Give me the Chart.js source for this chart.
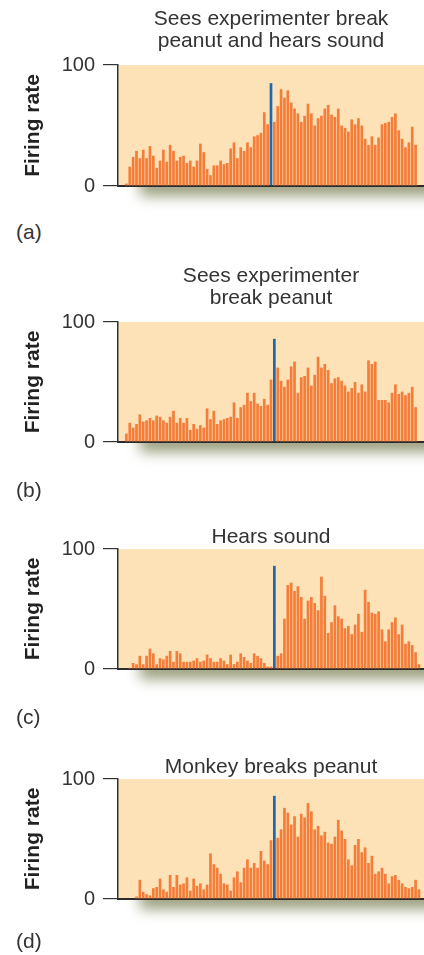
<!DOCTYPE html>
<html>
<head>
<meta charset="utf-8">
<title>Firing rate</title>
<script src="https://cdn.jsdelivr.net/npm/chart.js@4/dist/chart.umd.min.js"></script>
<style>
  body { margin: 0; background: #fff; width: 424px; height: 955px; position: relative; overflow: hidden; font-family: "Liberation Sans", Arial, sans-serif; }
  .panel { position: absolute; left: 0; width: 424px; height: 215px; }
  .tag { position: absolute; left: 16px; font-size: 21px; line-height: 24px; color: #333; }
</style>
</head>
<body>
<div class="panel" style="top:0px"><canvas id="chartA" width="424" height="215"></canvas></div>
<div class="panel" style="top:257px"><canvas id="chartB" width="424" height="215"></canvas></div>
<div class="panel" style="top:484px"><canvas id="chartC" width="424" height="215"></canvas></div>
<div class="panel" style="top:714px"><canvas id="chartD" width="424" height="215"></canvas></div>
<div class="tag" style="top:220px">(a)</div>
<div class="tag" style="top:478px">(b)</div>
<div class="tag" style="top:705px">(c)</div>
<div class="tag" style="top:929px">(d)</div>

<script>
// 91 time bins per panel, blue line = moment of the event
const binCount = 91;
const binLabels = Array.from({ length: binCount }, (_, i) => i);

const titleA = ["Sees experimenter break", "peanut and hears sound"];
const titleB = ["Sees experimenter", "break peanut"];
const titleC = "Hears sound";
const titleD = "Monkey breaks peanut";

const yTicks = [0, 100];

const ratesA = [
  0, 0, 2, 16, 24, 29, 23, 30, 23, 33, 25, 15, 21, 30, 20, 34, 29, 21, 24, 25,
  19, 21, 16, 21, 35, 28, 14, 9, 17, 17, 21, 18, 19, 31, 36, 23, 32, 29, 36, 32,
  41, 42, 44, 61, 51, null,
  53, 66, 80, 73, 79, 69, 64, 60, 53, 58, 68, 60, 50, 56, 58, 64, 67, 59, 57, 64,
  50, 48, 45, 55, 51, 56, 50, 39, 34, 41, 34, 40, 51, 52, 53, 57, 60, 46, 39, 32,
  36, 49, 34, 0, 0
];
const ratesB = [
  0, 0, 7, 16, 12, 15, 23, 17, 18, 20, 18, 22, 21, 18, 16, 21, 26, 16, 20, 16,
  20, 10, 15, 11, 14, 12, 28, 19, 26, 15, 18, 19, 20, 21, 33, 20, 29, 31, 41, 34,
  41, 32, 30, 36, 31, 52, null,
  62, 51, 46, 52, 63, 67, 41, 54, 55, 62, 47, 56, 71, 62, 65, 60, 49, 53, 54, 51,
  47, 42, 45, 50, 41, 48, 42, 68, 65, 67, 35, 35, 35, 33, 41, 48, 40, 42, 39, 41,
  46, 29, 0, 0
];
const ratesC = [
  0, 0, 0, 1, 5, 4, 11, 4, 11, 17, 13, 4, 9, 8, 11, 15, 6, 15, 13, 6,
  6, 6, 7, 9, 6, 7, 12, 9, 6, 6, 9, 7, 4, 12, 4, 6, 13, 10, 7, 5,
  13, 11, 9, 5, 2, 2, null,
  11, 13, 42, 70, 72, 65, 69, 60, 42, 57, 60, 55, 49, 77, 61, 30, 39, 53, 44, 42,
  34, 36, 29, 37, 46, 31, 66, 56, 47, 46, 48, 33, 23, 33, 39, 43, 29, 37, 21, 23,
  20, 14, 4, 0
];
const ratesD = [
  0, 0, 0, 0, 0, 2, 16, 6, 4, 3, 9, 10, 17, 8, 6, 20, 10, 20, 12, 13,
  18, 7, 17, 11, 13, 8, 12, 38, 29, 26, 21, 13, 12, 7, 18, 23, 14, 26, 33, 26,
  30, 26, 40, 32, 29, 49, null,
  51, 58, 76, 72, 62, 69, 52, 71, 68, 80, 73, 58, 61, 53, 56, 47, 46, 52, 66, 57,
  50, 33, 28, 45, 50, 39, 43, 30, 36, 21, 23, 26, 21, 13, 19, 20, 16, 13, 10, 9,
  10, 16, 8, 0
];

// bin of the blue marker and its height, panels a-d
const markBins = [45, 46, 46, 46];
const markHeights = [85, 86, 86, 86];

Chart.defaults.font.family = '"Liberation Sans", Arial, sans-serif';
Chart.defaults.color = "#333";

// peach plot area and the soft shadow under the baseline
const backdrop = {
  id: "backdrop",
  beforeDraw(chart) {
    const { ctx, chartArea: a } = chart;
    ctx.save();
    ctx.fillStyle = "#fde2b8";
    ctx.fillRect(a.left, a.top, a.right - a.left, a.bottom - a.top);
    ctx.beginPath();
    ctx.rect(a.left, a.bottom, chart.width - a.left, 40);
    ctx.clip();
    ctx.filter = "blur(7px)";
    ctx.fillStyle = "rgba(135,140,100,0.85)";
    ctx.fillRect(a.left + 22, a.bottom - 10, chart.width + 20, 20);
    ctx.restore();
  }
};

function drawPanel(id, title, rates, markBin, markHeight, bottomPad) {
  const twoLines = Array.isArray(title);
  const markData = rates.map((v, i) => (i === markBin ? markHeight : null));

  new Chart(document.getElementById(id), {
    type: "bar",
    data: {
      labels: binLabels,
      datasets: [
        { data: rates, backgroundColor: "#f47d3a", barPercentage: 0.8, categoryPercentage: 1, grouped: false },
        { data: markData, backgroundColor: "#1e69b3", barPercentage: 0.8, categoryPercentage: 1, grouped: false }
      ]
    },
    options: {
      responsive: false,
      animation: false,
      devicePixelRatio: 1,
      layout: { padding: { top: 0, left: 0, right: 0, bottom: bottomPad } },
      plugins: {
        legend: { display: false },
        tooltip: { enabled: false },
        title: {
          display: true,
          text: title,
          fullSize: false,
          color: "#333",
          font: { size: 21, weight: "normal", lineHeight: 1.05 },
          padding: twoLines ? { top: 7.9, bottom: 13 } : { top: 42.5, bottom: 0.5 }
        }
      },
      scales: {
        x: {
          type: "category",
          grid: { display: false, drawTicks: false },
          ticks: { display: false },
          border: { display: true, color: "#2b2b2b", width: 2 }
        },
        y: {
          min: yTicks[0],
          max: yTicks[1],
          afterBuildTicks: (s) => { s.ticks = yTicks.map((v) => ({ value: v })); },
          ticks: { padding: 8, font: { size: 20 }, color: "#333" },
          grid: { drawOnChartArea: false, drawTicks: true, tickLength: 15, color: "#333", lineWidth: 1.2 },
          border: { display: true, color: "#333", width: 1.5 },
          title: {
            display: true,
            text: "Firing rate",
            color: "#222",
            font: { size: 21, weight: "bold", lineHeight: 1.2 },
            padding: { top: 21, bottom: 0 }
          },
          afterFit: (s) => { s.width = 118; }
        }
      }
    },
    plugins: [backdrop]
  });
}

drawPanel("chartA", titleA, ratesA, markBins[0], markHeights[0], 29);
drawPanel("chartB", titleB, ratesB, markBins[1], markHeights[1], 30);
drawPanel("chartC", titleC, ratesC, markBins[2], markHeights[2], 30);
drawPanel("chartD", titleD, ratesD, markBins[3], markHeights[3], 30);
</script>
</body>
</html>
